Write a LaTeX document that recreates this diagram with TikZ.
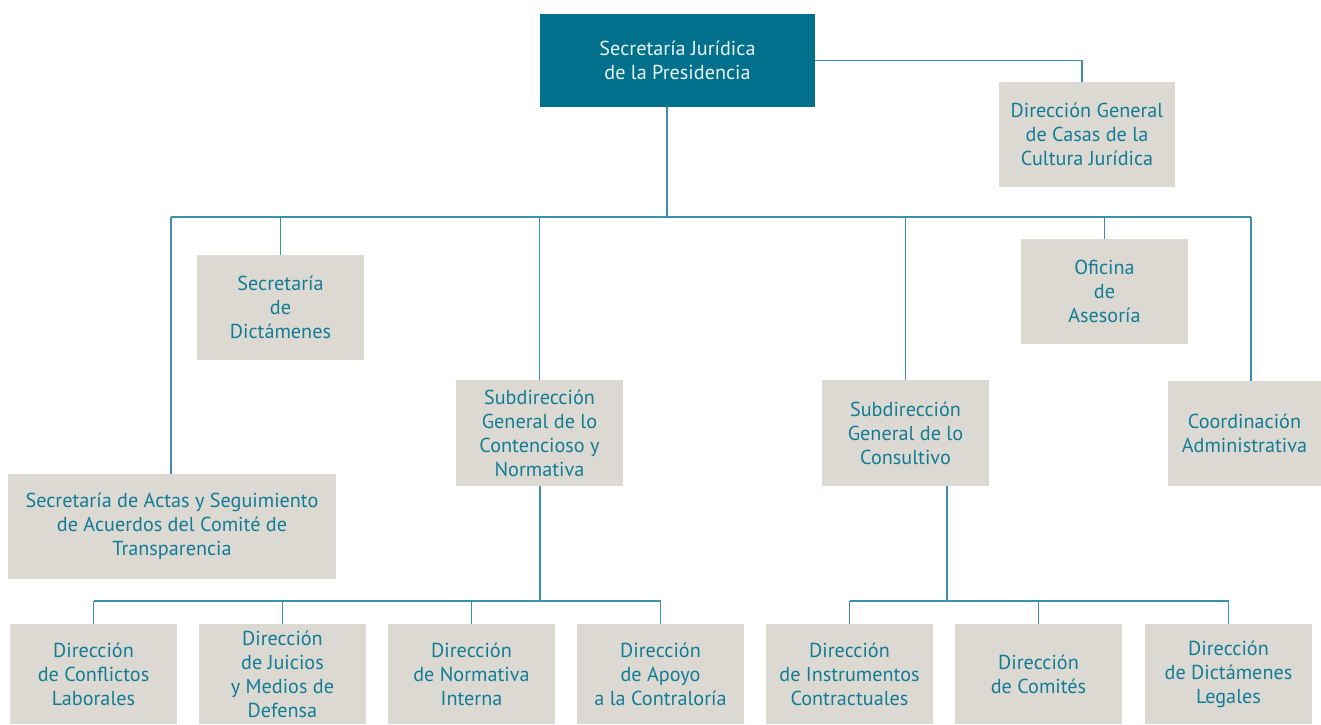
\documentclass[tikz,border=0pt]{standalone}
\usepackage{fontspec}
\setmainfont{PT Sans}
\definecolor{headfill}{HTML}{00708C}
\definecolor{boxfill}{HTML}{DCD9D3}
\definecolor{boxtext}{HTML}{137C95}
\definecolor{linkcol}{HTML}{3A90A8}
\begin{document}
\begin{tikzpicture}[x=1pt, y=-1pt,
  unit/.style={fill=boxfill, text=boxtext, align=center, inner sep=0pt,
    font=\fontsize{20.2}{24}\selectfont},
  head/.style={unit, fill=headfill, text=white!92!headfill},
  link/.style={draw=linkcol, line width=1.4pt}]
\useasboundingbox (0,0) rectangle (1321,724);

% Head office
\node[head, minimum width=275pt, minimum height=93pt] (sjp) at (677.5,60.5)
  {Secretaría Jurídica\\de la Presidencia};
\node[unit, minimum width=176pt, minimum height=105pt] (casas) at (1087,134.5)
  {Dirección General\\de Casas de la\\Cultura Jurídica};

% Second level
\node[unit, minimum width=167pt, minimum height=105pt] (dict) at (280.5,307.5)
  {Secretaría\\de\\Dictámenes};
\node[unit, minimum width=167pt, minimum height=105pt] (ases) at (1104.5,291.5)
  {Oficina\\de\\Asesoría};
\node[unit, minimum width=167pt, minimum height=106pt] (sgcn) at (539.5,433)
  {Subdirección\\General de lo\\Contencioso y\\Normativa};
\node[unit, minimum width=167pt, minimum height=106pt] (sgcs) at (905.5,433)
  {Subdirección\\General de lo\\Consultivo};
\node[unit, minimum width=153pt, minimum height=105pt] (coord) at (1244.5,433.5)
  {Coordinación\\Administrativa};
\node[unit, minimum width=328pt, minimum height=105pt] (actas) at (172,526.5)
  {Secretaría de Actas y Seguimiento\\de Acuerdos del Comité de\\Transparencia};

% Bottom row
\node[unit, minimum width=167pt, minimum height=100pt] (dcl) at (93.5,674)
  {Dirección\\de Conflictos\\Laborales};
\node[unit, minimum width=167pt, minimum height=100pt] (djm) at (282.5,674)
  {Dirección\\de Juicios\\y Medios de\\Defensa};
\node[unit, minimum width=167pt, minimum height=100pt] (dni) at (471.5,674)
  {Dirección\\de Normativa\\Interna};
\node[unit, minimum width=167pt, minimum height=100pt] (dac) at (660.5,674)
  {Dirección\\de Apoyo\\a la Contraloría};
\node[unit, minimum width=167pt, minimum height=100pt] (dic) at (849.5,674)
  {Dirección\\de Instrumentos\\Contractuales};
\node[unit, minimum width=167pt, minimum height=100pt] (dco) at (1038.5,674)
  {Dirección\\de Comités};
\node[unit, minimum width=167pt, minimum height=100pt] (ddl) at (1228.5,674)
  {Dirección\\de Dictámenes\\Legales};

% Links from the head office
\coordinate (trunk) at (667,217);
\coordinate (busL) at (171,217);
\coordinate (busR) at (1251,217);
\draw[link] (sjp.east) -| ([xshift=-5pt]casas.north);
\draw[link] (sjp.south -| trunk) -- (trunk);
\draw[link] (busL) -- (busR);
\draw[link] (busL) -- (busL |- actas.north);
\foreach \n in {dict,sgcn,sgcs,ases}
  \draw[link] (\n.north) -- (\n.north |- busL);
\draw[link] (busR) -- (busR |- coord.north);

% Links under the Contencioso branch
\coordinate (busA) at (540,601);
\draw[link] (sgcn.south -| busA) -- (busA);
\draw[link] (dcl.north |- busA) -- (dac.north |- busA);
\foreach \n in {dcl,djm,dni,dac}
  \draw[link] (\n.north) -- (\n.north |- busA);

% Links under the Consultivo branch
\coordinate (busB) at (947,601);
\draw[link] (sgcs.south -| busB) -- (busB);
\draw[link] (dic.north |- busB) -- (ddl.north |- busB);
\foreach \n in {dic,dco,ddl}
  \draw[link] (\n.north) -- (\n.north |- busB);
\end{tikzpicture}
\end{document}
